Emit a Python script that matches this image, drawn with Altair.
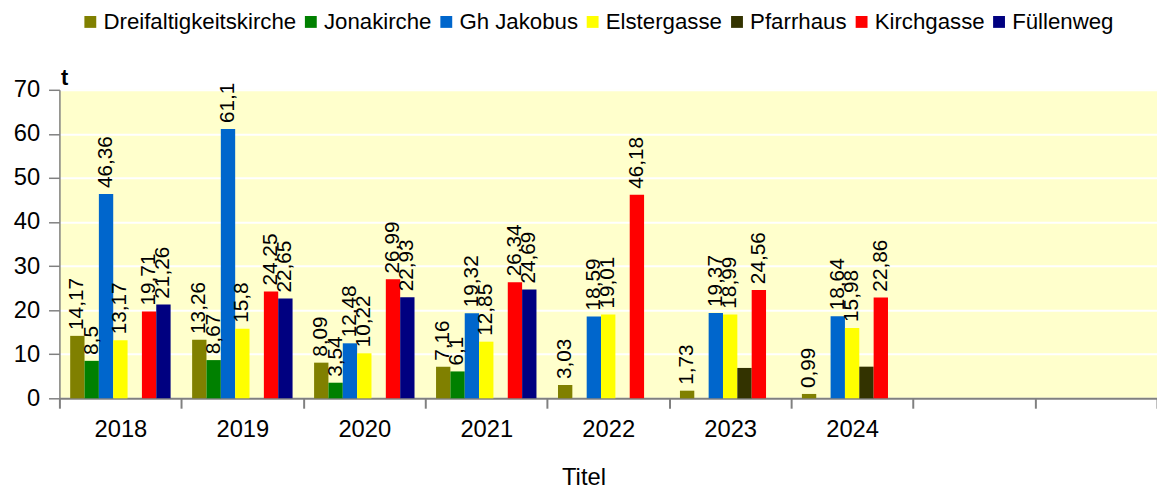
import altair as alt
import pandas as pd

years = ["2018", "2019", "2020", "2021", "2022", "2023", "2024"]
slots = years + ["2025", "2026"]
series = ["Dreifaltigkeitskirche", "Jonakirche", "Gh Jakobus", "Elstergasse",
          "Pfarrhaus", "Kirchgasse", "Füllenweg"]
colors = ["#808000", "#008000", "#0066CC", "#FFFF00", "#333300", "#FF0000", "#000080"]

dreifaltigkeitskirche = [14.17, 13.26, 8.09, 7.16, 3.03, 1.73, 0.99]
jonakirche = [8.5, 8.67, 3.54, 6.1, None, None, None]
gh_jakobus = [46.36, 61.1, 12.48, 19.32, 18.59, 19.37, 18.64]
elstergasse = [13.17, 15.8, 10.22, 12.85, 19.01, 18.99, 15.98]
pfarrhaus = [None, None, None, None, None, 6.89, 7.18]
kirchgasse = [19.71, 24.25, 26.99, 26.34, 46.18, 24.56, 22.86]
fuellenweg = [21.26, 22.65, 22.93, 24.69, None, None, None]

values = {
    "Dreifaltigkeitskirche": dreifaltigkeitskirche,
    "Jonakirche": jonakirche,
    "Gh Jakobus": gh_jakobus,
    "Elstergasse": elstergasse,
    "Pfarrhaus": pfarrhaus,
    "Kirchgasse": kirchgasse,
    "Füllenweg": fuellenweg,
}
unlabelled = ["Pfarrhaus"]

rows = []
for s in series:
    for y, v in zip(years, values[s]):
        if v is None:
            continue
        lab = "" if s in unlabelled else f"{v:g}".replace(".", ",")
        rows.append({"Jahr": y, "Ort": s, "Wert": v, "Label": lab})
df = pd.DataFrame(rows)

FONT = "Liberation Sans"

x = alt.X(
    "Jahr:N",
    scale=alt.Scale(domain=slots, paddingInner=0, paddingOuter=0),
    axis=alt.Axis(
        title="Titel",
        labelExpr="toNumber(datum.value) > 2024 ? '' : datum.value",
        labelAngle=0,
        labelFontSize=24,
        labelPadding=10,
        labelColor="#000000",
        tickBand="extent",
        tickSize=10,
        tickWidth=2,
        tickColor="#808080",
        domainColor="#808080",
        domainWidth=2,
        grid=False,
        titleFontSize=24,
        titleFontWeight="normal",
        titleColor="#000000",
        titleX=530,
        titleY=87,
        titleBaseline="alphabetic",
        titleAlign="center",
    ),
)
xo = alt.XOffset("Ort:N", scale=alt.Scale(domain=series, paddingOuter=0.75, paddingInner=0))
y = alt.Y(
    "Wert:Q",
    scale=alt.Scale(domain=[0, 70], nice=False),
    axis=alt.Axis(
        values=[0, 10, 20, 30, 40, 50, 60, 70],
        title="t",
        titleAngle=0,
        titleX=1,
        titleY=-5,
        titleAlign="left",
        titleBaseline="alphabetic",
        titleFontWeight="bold",
        titleFontSize=22,
        titleColor="#000000",
        labelFontSize=24,
        labelColor="#000000",
        labelPadding=9,
        tickSize=11,
        tickWidth=1.5,
        tickColor="#808080",
        domainColor="#808080",
        domainWidth=1.5,
        gridColor="#FFFFFF",
        gridWidth=2,
    ),
)
color = alt.Color(
    "Ort:N",
    scale=alt.Scale(domain=series, range=colors),
    legend=alt.Legend(
        orient="none",
        legendX=20,
        legendY=-80,
        direction="horizontal",
        columns=7,
        title=None,
        symbolType="square",
        symbolSize=144,
        symbolStrokeWidth=0,
        symbolOpacity=1,
        labelFontSize=22.5,
        labelLimit=400,
        labelOffset=2,
        columnPadding=3,
        padding=0,
        labelColor="#000000",
    ),
)

bars = alt.Chart(df).mark_bar(opacity=1).encode(x=x, xOffset=xo, y=y, color=color)
labels = alt.Chart(df).mark_text(
    angle=270, align="left", baseline="middle", dx=6, fontSize=21, font=FONT, color="#000000"
).encode(x=x, xOffset=xo, y=y, text="Label:N")

chart = (
    alt.layer(bars, labels)
    .properties(
        width=1110,
        height=312,
        autosize=alt.AutoSizeParams(type="none"),
        padding={"left": 52, "top": 80, "right": 0, "bottom": 90},
    )
    .configure(font=FONT)
    .configure_view(fill="#FFFFCC", stroke=None)
)

chart.save("out.html", embed_options={"renderer": "svg", "actions": False})
